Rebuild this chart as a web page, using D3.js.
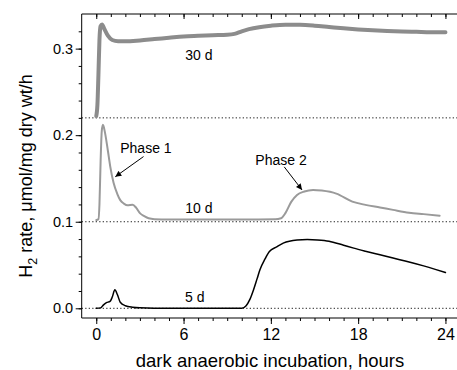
<!DOCTYPE html>
<html>
<head>
<meta charset="utf-8">
<script src="https://cdn.jsdelivr.net/npm/d3@7"></script>
<style>
    body { margin: 0; background: #fff; }
    svg { display: block; font-family: "Liberation Sans", Arial, sans-serif; }
</style>
</head>
<body>
<script>
(function(){
    // data (hours, umol/mg dry wt/h)
    var t30 = [0, 0.08, 0.15, 0.22, 0.3, 0.4, 0.55, 0.8, 1.1, 1.5, 2, 3, 4, 5, 6, 7, 8, 9, 9.5, 10, 10.5, 11.2, 12, 13, 14, 15, 16, 17, 18, 19, 20, 21, 22, 23, 24];
    var v30 = [0.222, 0.235, 0.27, 0.31, 0.326, 0.328, 0.323, 0.315, 0.310, 0.3085, 0.3085, 0.3095, 0.311, 0.3125, 0.314, 0.3148, 0.3155, 0.316, 0.317, 0.320, 0.3225, 0.3248, 0.3265, 0.3277, 0.3275, 0.3265, 0.325, 0.3235, 0.3222, 0.3212, 0.3204, 0.3198, 0.3194, 0.319, 0.319];

    var t10 = [0, 0.15, 0.22, 0.3, 0.38, 0.46, 0.6, 0.8, 0.96, 1.19, 1.45, 1.65, 1.9, 2.15, 2.5, 2.75, 3.0, 3.3, 3.6, 4, 5, 8, 11, 12.3, 12.7, 13.0, 13.4, 13.8, 14.3, 14.9, 15.5, 16.5, 17.6, 18.5, 19.5, 20.4, 21.5, 22.5, 23.6];
    var v10 = [0.102, 0.103, 0.12, 0.17, 0.205, 0.212, 0.203, 0.182, 0.164, 0.145, 0.132, 0.125, 0.121, 0.119, 0.1195, 0.116, 0.110, 0.1065, 0.104, 0.103, 0.1027, 0.1027, 0.1027, 0.1028, 0.104, 0.11, 0.123, 0.131, 0.135, 0.1368, 0.136, 0.1325, 0.1233, 0.1195, 0.1165, 0.1137, 0.1105, 0.1088, 0.107];

    var t5 = [0, 0.3, 0.5, 0.7, 0.95, 1.1, 1.28, 1.45, 1.65, 2.0, 2.5, 3.0, 4, 7, 10, 10.3, 10.55, 10.8, 11.05, 11.25, 11.6, 11.9, 12.4, 12.85, 13.8, 14.5, 15.2, 16, 17, 17.7, 18.5, 19.5, 20.4, 21.5, 22.5, 23.3, 24];
    var v5 = [0.0, 0.0005, 0.004, 0.0065, 0.008, 0.013, 0.0214, 0.016, 0.007, 0.003, 0.0012, 0.0005, 0.0002, 0.0002, 0.0002, 0.003, 0.01, 0.021, 0.034, 0.0445, 0.057, 0.0656, 0.071, 0.0753, 0.079, 0.0795, 0.079, 0.0775, 0.0728, 0.0695, 0.066, 0.0618, 0.058, 0.0535, 0.049, 0.045, 0.0413];

    var baselines = [0, 0.1, 0.22];
    var xTicks = [0, 6, 12, 18, 24];
    var yTicks = [0.0, 0.1, 0.2, 0.3];

    var width = 457,
        height = 370,
        left = 81.7,
        top = 14,
        bottom = 318;

    var x = d3.scaleLinear().domain([-1, 25]).range([left, left + 26 * 14.55]);
    var y = d3.scaleLinear().domain([-0.0112, 0.34]).range([bottom, top]);

    var svg = d3.select("body")
        .append("svg")
        .attr("width", width)
        .attr("height", height);

    // dotted zero lines for each curve
    svg.selectAll(".base")
        .data(baselines)
        .enter()
        .append("line")
        .attr("class", "base")
        .attr("x1", left)
        .attr("x2", width)
        .attr("y1", d => y(d))
        .attr("y2", d => y(d))
        .attr("stroke", "#222")
        .attr("stroke-width", 1)
        .attr("stroke-dasharray", "1.3,2.2");

    var line = d3.line()
        .x(d => x(d[0]))
        .y(d => y(d[1]))
        .curve(d3.curveMonotoneX);

    function addSeries(ts, vs, color, w){
        svg.append("path")
            .datum(ts.map((t, i) => [t, vs[i]]))
            .attr("d", line)
            .attr("fill", "none")
            .attr("stroke", color)
            .attr("stroke-width", w)
            .attr("stroke-linejoin", "round")
            .attr("stroke-linecap", "round");
    }

    addSeries(t30, v30, "#8c8c8c", 4);
    addSeries(t10, v10, "#9a9a9a", 2);
    addSeries(t5, v5, "#000", 1.5);

    // axes
    var xMinor = d3.range(0, 25, 1);
    var yMinor = d3.range(0, 0.34, 0.02);

    var xAxis = d3.axisBottom(x).tickValues(xTicks).tickFormat(d3.format("d")).tickSize(6).tickPadding(5);
    var xAxisMinor = d3.axisBottom(x).tickValues(xMinor).tickFormat("").tickSize(3);
    var yAxis = d3.axisLeft(y).tickValues(yTicks).tickFormat(d3.format(".1f")).tickSize(6).tickPadding(2.5);
    var yAxisMinor = d3.axisLeft(y).tickValues(yMinor).tickFormat("").tickSize(3);
    var topMajor = d3.axisBottom(x).tickValues(xTicks).tickFormat("").tickSize(5);
    var topMinor = d3.axisBottom(x).tickValues(xMinor).tickFormat("").tickSize(3);

    function styleAxis(g, fs){
        g.select(".domain").remove();
        g.selectAll("line").attr("stroke", "#000");
        g.selectAll("text")
            .attr("fill", "#000")
            .style("font-size", fs + "px")
            .style("font-family", "'Liberation Sans', Arial, sans-serif");
    }

    svg.append("g").attr("transform", "translate(0," + bottom + ")").call(xAxisMinor).call(styleAxis, 16);
    svg.append("g").attr("transform", "translate(0," + bottom + ")").call(xAxis).call(styleAxis, 16);
    svg.append("g").attr("transform", "translate(0," + top + ")").call(topMinor).call(styleAxis, 16);
    svg.append("g").attr("transform", "translate(0," + top + ")").call(topMajor).call(styleAxis, 16);
    svg.append("g").attr("transform", "translate(" + left + ",0)").call(yAxisMinor).call(styleAxis, 14.5);
    svg.append("g").attr("transform", "translate(" + left + ",0)").call(yAxis).call(styleAxis, 14.5);

    // frame lines
    svg.append("line").attr("x1", left).attr("x2", width).attr("y1", top).attr("y2", top).attr("stroke", "#000");
    svg.append("line").attr("x1", left).attr("x2", width).attr("y1", bottom).attr("y2", bottom).attr("stroke", "#000");
    svg.append("line").attr("x1", left).attr("x2", left).attr("y1", top).attr("y2", bottom).attr("stroke", "#000");

    // curve labels
    var labels = [
        {t: 7.05, v: 0.287, text: "30 d", anchor: "middle"},
        {t: 7.05, v: 0.110, text: "10 d", anchor: "middle"},
        {t: 6.77, v: 0.0075, text: "5 d", anchor: "middle"},
        {t: 1.65, v: 0.1796, text: "Phase 1", anchor: "start"},
        {t: 12.7, v: 0.1657, text: "Phase 2", anchor: "middle"}
    ];

    svg.selectAll(".lab")
        .data(labels)
        .enter()
        .append("text")
        .attr("class", "lab")
        .attr("x", d => x(d.t))
        .attr("y", d => y(d.v))
        .attr("text-anchor", d => d.anchor)
        .style("font-size", "14px")
        .text(d => d.text);

    // arrows
    svg.append("defs").append("marker")
        .attr("id", "head")
        .attr("viewBox", "0 0 10 10")
        .attr("refX", 10)
        .attr("refY", 5)
        .attr("markerWidth", 7)
        .attr("markerHeight", 6)
        .attr("markerUnits", "userSpaceOnUse")
        .attr("orient", "auto")
        .append("path")
        .attr("d", "M0,0L10,5L0,10z")
        .attr("fill", "#000");

    var arrows = [
        {t1: 3.25, v1: 0.1753, t2: 1.31, v2: 0.152},
        {t1: 12.92, v1: 0.1634, t2: 14.14, v2: 0.1368}
    ];

    svg.selectAll(".arrow")
        .data(arrows)
        .enter()
        .append("line")
        .attr("class", "arrow")
        .attr("x1", d => x(d.t1))
        .attr("y1", d => y(d.v1))
        .attr("x2", d => x(d.t2))
        .attr("y2", d => y(d.v2))
        .attr("stroke", "#000")
        .attr("stroke-width", 1)
        .attr("marker-end", "url(#head)");

    // axis titles
    svg.append("text")
        .attr("x", 270)
        .attr("y", 367)
        .attr("text-anchor", "middle")
        .style("font-size", "18.5px")
        .text("dark anaerobic incubation, hours");

    var yTitle = svg.append("text")
        .attr("transform", "translate(32," + 176 + ") rotate(-90)")
        .attr("text-anchor", "middle")
        .style("font-size", "18px");
    yTitle.append("tspan").text("H");
    yTitle.append("tspan").attr("dy", 5).style("font-size", "12.5px").text("2");
    yTitle.append("tspan").attr("dy", -5).text(" rate, \u03bcmol/mg dry wt/h");
})();
</script>
</body>
</html>
